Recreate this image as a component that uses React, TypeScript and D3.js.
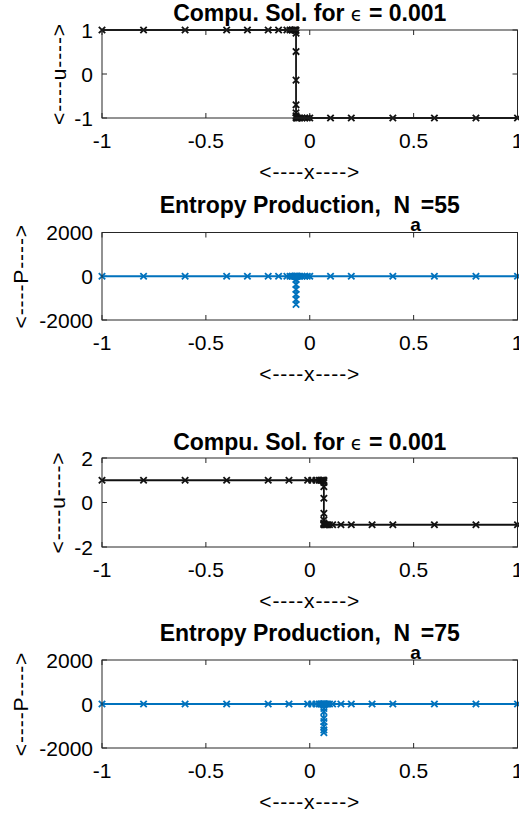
import React from "react";
import * as d3 from "d3";

// Mesh and solution for the N_a = 55 run (shock near x = -0.066)
const X_A = [
  -1, -0.8, -0.6, -0.4, -0.3, -0.2, -0.15, -0.11, -0.095, -0.085, -0.078, -0.073, -0.07, -0.068,
  -0.066, -0.066, -0.066, -0.066, -0.066, -0.066, -0.066, -0.066,
  -0.064, -0.062, -0.058, -0.05, -0.038, -0.024, -0.012, 0, 0.1, 0.2, 0.4, 0.6, 0.8, 1,
];
const U_A = [
  1, 1, 1, 1, 1, 1, 1, 1, 1, 1, 1, 1, 1, 1,
  0.99, 0.93, 0.51, -0.14, -0.7, -0.88, -0.95, -0.99,
  -1, -1, -1, -1, -1, -1, -1, -1, -1, -1, -1, -1, -1, -1,
];
const P_A = [
  0, 0, 0, 0, 0, 0, 0, 0, 0, 0, 0, 0, 0, 0,
  -20, -380, -1060, -1290, -830, -600, -150, -10,
  0, 0, 0, 0, 0, 0, 0, 0, 0, 0, 0, 0, 0, 0,
];

// Mesh and solution for the N_a = 75 run (shock near x = 0.068)
const X_B = [
  -1, -0.8, -0.6, -0.4, -0.2, -0.1, -0.01, 0.01, 0.03, 0.045, 0.052, 0.058, 0.062, 0.065, 0.067,
  0.068, 0.068, 0.068, 0.068, 0.068, 0.068, 0.068, 0.068, 0.068,
  0.07, 0.073, 0.078, 0.085, 0.095, 0.11, 0.15, 0.2, 0.3, 0.4, 0.6, 0.8, 1,
];
const U_B = [
  1, 1, 1, 1, 1, 1, 1, 1, 1, 1, 1, 1, 1, 1, 1,
  0.98, 0.9, 0.71, 0.19, -0.49, -0.79, -0.92, -0.97, -0.99,
  -1, -1, -1, -1, -1, -1, -1, -1, -1, -1, -1, -1, -1,
];
const P_B = [
  0, 0, 0, 0, 0, 0, 0, 0, 0, 0, 0, 0, 0, 0, 0,
  -50, -350, -800, -1300, -1180, -1030, -650, -200, -20,
  0, 0, 0, 0, 0, 0, 0, 0, 0, 0, 0, 0, 0,
];

const X_TICKS = [-1, -0.5, 0, 0.5, 1];
const X_TICK_LABELS = ["-1", "-0.5", "0", "0.5", "1"];
const U1_TICKS = [-1, 0, 1];
const U1_TICK_LABELS = ["-1", "0", "1"];
const U2_TICKS = [-2, 0, 2];
const U2_TICK_LABELS = ["-2", "0", "2"];
const P_TICKS = [-2000, 0, 2000];
const P_TICK_LABELS = ["-2000", "0", "2000"];

const FONT = "'Liberation Sans', Arial, Helvetica, sans-serif";
const AXIS_COLOR = "#262626";
const LEFT = 102;
const RIGHT = 517.5;
const TICK_FS = 21;
const TITLE_FS = 23;

type PanelProps = {
  top: number;
  bottom: number;
  xs: number[];
  ys: number[];
  yDomain: [number, number];
  yTicks: number[];
  yTickLabels: string[];
  color: string;
  yLabel: string;
  yLabelX: number;
  title: React.ReactNode;
};

function Panel(p: PanelProps) {
  const x = d3.scaleLinear().domain([-1, 1]).range([LEFT, RIGHT]);
  const y = d3.scaleLinear().domain(p.yDomain).range([p.bottom, p.top]);
  const pts: [number, number][] = p.xs.map((v, i) => [x(v), y(p.ys[i])]);
  const line = d3.line<[number, number]>().x((d) => d[0]).y((d) => d[1]);
  const tick = 5;
  const m = 3.2;
  const midY = (p.top + p.bottom) / 2;
  return (
    <g>
      <rect x={LEFT} y={p.top} width={RIGHT - LEFT} height={p.bottom - p.top} fill="#fff" />
      {X_TICKS.map((t, i) => (
        <g key={"xt" + i}>
          <line x1={x(t)} x2={x(t)} y1={p.bottom} y2={p.bottom - tick} stroke={AXIS_COLOR} />
          <line x1={x(t)} x2={x(t)} y1={p.top} y2={p.top + tick} stroke={AXIS_COLOR} />
          <text
            x={x(t)}
            y={p.bottom + 30}
            textAnchor="middle"
            fontSize={TICK_FS}
            fontFamily={FONT}
            fill="#000"
          >
            {X_TICK_LABELS[i]}
          </text>
        </g>
      ))}
      {p.yTicks.map((t, i) => (
        <g key={"yt" + i}>
          <line x1={LEFT} x2={LEFT + tick} y1={y(t)} y2={y(t)} stroke={AXIS_COLOR} />
          <line x1={RIGHT} x2={RIGHT - tick} y1={y(t)} y2={y(t)} stroke={AXIS_COLOR} />
          <text
            x={LEFT - 9}
            y={y(t) + 7.5}
            textAnchor="end"
            fontSize={TICK_FS}
            fontFamily={FONT}
            fill="#000"
          >
            {p.yTickLabels[i]}
          </text>
        </g>
      ))}
      <path d={line(pts) || ""} fill="none" stroke={p.color} strokeWidth={1.8} />
      {pts.map((d, i) => (
        <path
          key={"m" + i}
          d={`M${d[0] - m},${d[1] - m}L${d[0] + m},${d[1] + m}M${d[0] - m},${d[1] + m}L${d[0] + m},${d[1] - m}`}
          stroke={p.color}
          strokeWidth={1.8}
          fill="none"
        />
      ))}
      <rect
        x={LEFT}
        y={p.top}
        width={RIGHT - LEFT}
        height={p.bottom - p.top}
        fill="none"
        stroke={AXIS_COLOR}
        strokeWidth={1}
      />
      <text
        x={(LEFT + RIGHT) / 2}
        y={p.bottom + 61}
        textAnchor="middle"
        fontSize={TICK_FS}
        letterSpacing={0.9}
        fontFamily={FONT}
        fill="#000"
      >
        {"<----x---->"}
      </text>
      <text
        transform={`translate(${p.yLabelX},${midY}) rotate(-90)`}
        textAnchor="middle"
        dominantBaseline="central"
        fontSize={TICK_FS}
        letterSpacing={0.9}
        fontFamily={FONT}
        fill="#000"
      >
        {p.yLabel}
      </text>
      {p.title}
    </g>
  );
}

function SolTitle({ y }: { y: number }) {
  return (
    <text
      x={(LEFT + RIGHT) / 2}
      y={y}
      textAnchor="middle"
      fontSize={TITLE_FS}
      fontWeight="bold"
      fontFamily={FONT}
      fill="#000"
    >
      {"Compu. Sol. for "}
      <tspan fontWeight="normal" fontSize={19} fontFamily="'DejaVu Sans', sans-serif">
        {"\u03F5"}
      </tspan>
      {" = 0.001"}
    </text>
  );
}

function EntropyTitle({ y, n }: { y: number; n: number }) {
  return (
    <text
      x={(LEFT + RIGHT) / 2}
      y={y}
      textAnchor="middle"
      fontSize={TITLE_FS}
      fontWeight="bold"
      fontFamily={FONT}
      fill="#000"
      style={{ whiteSpace: "pre" }}
    >
      {"Entropy Production,  N"}
      <tspan dy={18} fontSize={19}>
        a
      </tspan>
      <tspan dy={-18}>{"=" + n}</tspan>
    </text>
  );
}

export default function App() {
  const black = "#111";
  const blue = "#0072BD";
  return (
    <svg
      width={519}
      height={817}
      style={{ position: "absolute", left: 0, top: 0, background: "#fff" }}
    >
      <rect width={519} height={817} fill="#fff" />
      <Panel
        top={30}
        bottom={118}
        xs={X_A}
        ys={U_A}
        yDomain={[-1, 1]}
        yTicks={U1_TICKS}
        yTickLabels={U1_TICK_LABELS}
        color={black}
        yLabel="<----u---->"
        yLabelX={58}
        title={<SolTitle y={21} />}
      />
      <Panel
        top={232.5}
        bottom={320}
        xs={X_A}
        ys={P_A}
        yDomain={[-2000, 2000]}
        yTicks={P_TICKS}
        yTickLabels={P_TICK_LABELS}
        color={blue}
        yLabel="<----P---->"
        yLabelX={20}
        title={<EntropyTitle y={213} n={55} />}
      />
      <Panel
        top={458}
        bottom={547}
        xs={X_B}
        ys={U_B}
        yDomain={[-2, 2]}
        yTicks={U2_TICKS}
        yTickLabels={U2_TICK_LABELS}
        color={black}
        yLabel="<----u---->"
        yLabelX={57}
        title={<SolTitle y={450} />}
      />
      <Panel
        top={660}
        bottom={748}
        xs={X_B}
        ys={P_B}
        yDomain={[-2000, 2000]}
        yTicks={P_TICKS}
        yTickLabels={P_TICK_LABELS}
        color={blue}
        yLabel="<----P---->"
        yLabelX={20}
        title={<EntropyTitle y={641} n={75} />}
      />
    </svg>
  );
}
